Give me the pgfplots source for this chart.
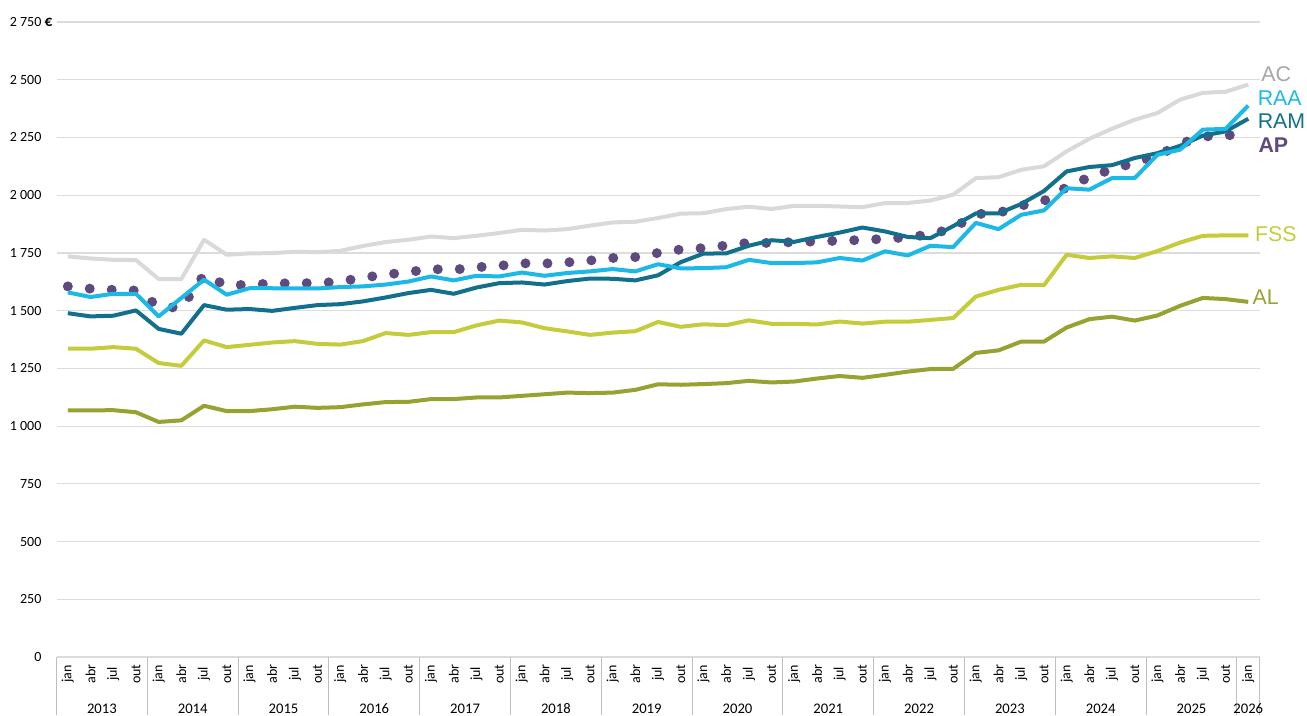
\documentclass[border=0pt]{standalone}
\usepackage{fontspec}
\setmainfont{Carlito}
\newfontfamily\arialf{Liberation Sans}
\usepackage{pgfplots}
\usepackage{pgfplotstable}
\pgfplotsset{compat=1.18}

\definecolor{cAC}{HTML}{D9D9D9}
\definecolor{cACt}{HTML}{A6A6A6}
\definecolor{cRAA}{HTML}{1DB9E6}
\definecolor{cRAM}{HTML}{12708C}
\definecolor{cAP}{HTML}{5E4A7E}
\definecolor{cFSS}{HTML}{C4CC3C}
\definecolor{cAL}{HTML}{98A232}
\definecolor{gridc}{HTML}{DCDCDC}
\definecolor{sepc}{HTML}{BFBFBF}

\pgfplotstableread{
i AC RAA RAM AP FSS AL
0 1735 1579 1489 1605 1335 1068
1 1726 1559 1475 1595 1335 1068
2 1720 1573 1478 1590 1342 1069
3 1719 1573 1501 1587 1335 1060
4 1637 1475 1421 1518 1273 1018
5 1637 1555 1400 1512 1261 1025
6 1807 1634 1524 1655 1371 1088
7 1742 1569 1504 1608 1342 1065
8 1748 1597 1507 1613 1352 1065
9 1749 1597 1499 1617 1362 1073
10 1755 1596 1512 1619 1368 1084
11 1753 1596 1524 1619 1356 1079
12 1759 1602 1528 1626 1353 1082
13 1780 1605 1540 1643 1368 1094
14 1797 1613 1557 1656 1403 1104
15 1807 1626 1576 1667 1395 1105
16 1821 1648 1590 1680 1407 1117
17 1814 1631 1573 1677 1407 1117
18 1824 1651 1600 1688 1436 1124
19 1836 1648 1619 1694 1457 1124
20 1850 1665 1622 1705 1449 1131
21 1847 1651 1613 1704 1424 1138
22 1853 1663 1628 1709 1410 1145
23 1868 1670 1639 1717 1395 1143
24 1882 1680 1638 1728 1405 1145
25 1885 1670 1631 1732 1411 1157
26 1901 1701 1653 1750 1451 1181
27 1920 1683 1710 1765 1430 1179
28 1922 1684 1747 1771 1441 1182
29 1940 1688 1748 1782 1437 1186
30 1950 1720 1781 1794 1458 1196
31 1940 1706 1805 1793 1443 1189
32 1954 1706 1798 1797 1443 1193
33 1954 1709 1819 1800 1440 1206
34 1951 1728 1838 1803 1453 1217
35 1948 1717 1860 1806 1444 1209
36 1966 1757 1843 1811 1452 1222
37 1966 1739 1819 1818 1452 1236
38 1977 1781 1814 1830 1460 1247
39 2002 1775 1866 1857 1468 1248
40 2074 1880 1921 1918 1561 1317
41 2078 1853 1921 1923 1590 1328
42 2110 1915 1962 1955 1612 1366
43 2125 1934 2018 1975 1610 1366
44 2190 2030 2103 2035 1742 1427
45 2244 2024 2122 2078 1728 1463
46 2288 2074 2130 2113 1735 1474
47 2327 2074 2161 2140 1728 1457
48 2356 2175 2182 2170 1758 1479
49 2414 2197 2214 2222 1795 1521
50 2443 2284 2258 2255 1824 1555
51 2448 2287 2276 2255 1826 1550
52 2479 2388 2331 2281 1826 1538
}\data

\begin{document}
\begin{tikzpicture}
\begin{axis}[
  scale only axis, width=902.3pt, height=476.25pt,
  xmin=-0.5, xmax=52.5, ymin=0, ymax=2750,
  clip=false,
  axis line style={draw=none},
  ymajorgrids, grid style={draw=gridc, line width=0.9pt},
  ytick={0,250,...,2750},
  yticklabels={0,250,500,750,1 000,1 250,1 500,1 750,2 000,2 250,2 500,2 750\rlap{ \textbf{\fontsize{11.5}{12}\selectfont €}}},
  yticklabel style={anchor=east, inner sep=0pt, xshift=-11.1pt, font=\fontsize{10.5}{12}\selectfont},
  xtick={0,...,52},
  xticklabels={jan,abr,jul,out,jan,abr,jul,out,jan,abr,jul,out,jan,abr,jul,out,jan,abr,jul,out,jan,abr,jul,out,jan,abr,jul,out,jan,abr,jul,out,jan,abr,jul,out,jan,abr,jul,out,jan,abr,jul,out,jan,abr,jul,out,jan,abr,jul,out,jan},
  xticklabel style={yshift=-12.75pt, rotate=90, anchor=center, inner sep=0pt, font=\fontsize{10.5}{12}\selectfont},
  major tick length=0pt,
  tick style={draw=none},
  every axis plot/.append style={no markers, line join=round},
]
\addplot[cAC, line width=3pt] table[x=i,y=AC]{\data};
\addplot[cAP, line width=7.5pt, line cap=round, dash pattern=on 0pt off 16.5pt] table[x=i,y=AP]{\data};
\addplot[cRAM, line width=3pt] table[x=i,y=RAM]{\data};
\addplot[cRAA, line width=3pt] table[x=i,y=RAA]{\data};
\addplot[cFSS, line width=3pt] table[x=i,y=FSS]{\data};
\addplot[cAL, line width=3pt] table[x=i,y=AL]{\data};

\pgfplotsinvokeforeach{-0.5,3.5,...,51.5,52.5}{
  \draw[sepc, line width=0.75pt] (axis cs:#1,0) -- ([yshift=-43.5pt]axis cs:#1,0);
}

\node[yshift=-38.6pt, font=\fontsize{11}{12}\selectfont] at (axis cs:1.5,0) {2013};
\node[yshift=-38.6pt, font=\fontsize{11}{12}\selectfont] at (axis cs:5.5,0) {2014};
\node[yshift=-38.6pt, font=\fontsize{11}{12}\selectfont] at (axis cs:9.5,0) {2015};
\node[yshift=-38.6pt, font=\fontsize{11}{12}\selectfont] at (axis cs:13.5,0) {2016};
\node[yshift=-38.6pt, font=\fontsize{11}{12}\selectfont] at (axis cs:17.5,0) {2017};
\node[yshift=-38.6pt, font=\fontsize{11}{12}\selectfont] at (axis cs:21.5,0) {2018};
\node[yshift=-38.6pt, font=\fontsize{11}{12}\selectfont] at (axis cs:25.5,0) {2019};
\node[yshift=-38.6pt, font=\fontsize{11}{12}\selectfont] at (axis cs:29.5,0) {2020};
\node[yshift=-38.6pt, font=\fontsize{11}{12}\selectfont] at (axis cs:33.5,0) {2021};
\node[yshift=-38.6pt, font=\fontsize{11}{12}\selectfont] at (axis cs:37.5,0) {2022};
\node[yshift=-38.6pt, font=\fontsize{11}{12}\selectfont] at (axis cs:41.5,0) {2023};
\node[yshift=-38.6pt, font=\fontsize{11}{12}\selectfont] at (axis cs:45.5,0) {2024};
\node[yshift=-38.6pt, font=\fontsize{11}{12}\selectfont] at (axis cs:49.5,0) {2025};
\node[yshift=-38.6pt, font=\fontsize{11}{12}\selectfont] at (axis cs:52,0) {2026};

\node[anchor=base west, inner sep=0pt, text=cACt, font=\arialf\fontsize{16}{18}\selectfont] at (axis cs:52.57,2493) {AC};
\node[anchor=base west, inner sep=0pt, text=cRAA, font=\arialf\fontsize{16}{18}\selectfont] at (axis cs:52.41,2388) {RAA};
\node[anchor=base west, inner sep=0pt, text=cRAM, font=\arialf\fontsize{16}{18}\selectfont] at (axis cs:52.41,2287) {RAM};
\node[anchor=base west, inner sep=0pt, text=cAP, font=\arialf\bfseries\fontsize{16}{18}\selectfont] at (axis cs:52.44,2183) {AP};
\node[anchor=base west, inner sep=0pt, text=cFSS, font=\arialf\fontsize{16}{18}\selectfont] at (axis cs:52.29,1800) {FSS};
\node[anchor=base west, inner sep=0pt, text=cAL, font=\arialf\fontsize{16}{18}\selectfont] at (axis cs:52.18,1525) {AL};

\coordinate (SW) at (rel axis cs:0,0);
\coordinate (NE) at (rel axis cs:1,1);
\end{axis}
\pgfresetboundingbox
\path ([xshift=-42.375pt,yshift=-43.5pt]SW) rectangle ([xshift=35.55pt,yshift=16.5pt]NE);
\end{tikzpicture}
\end{document}
